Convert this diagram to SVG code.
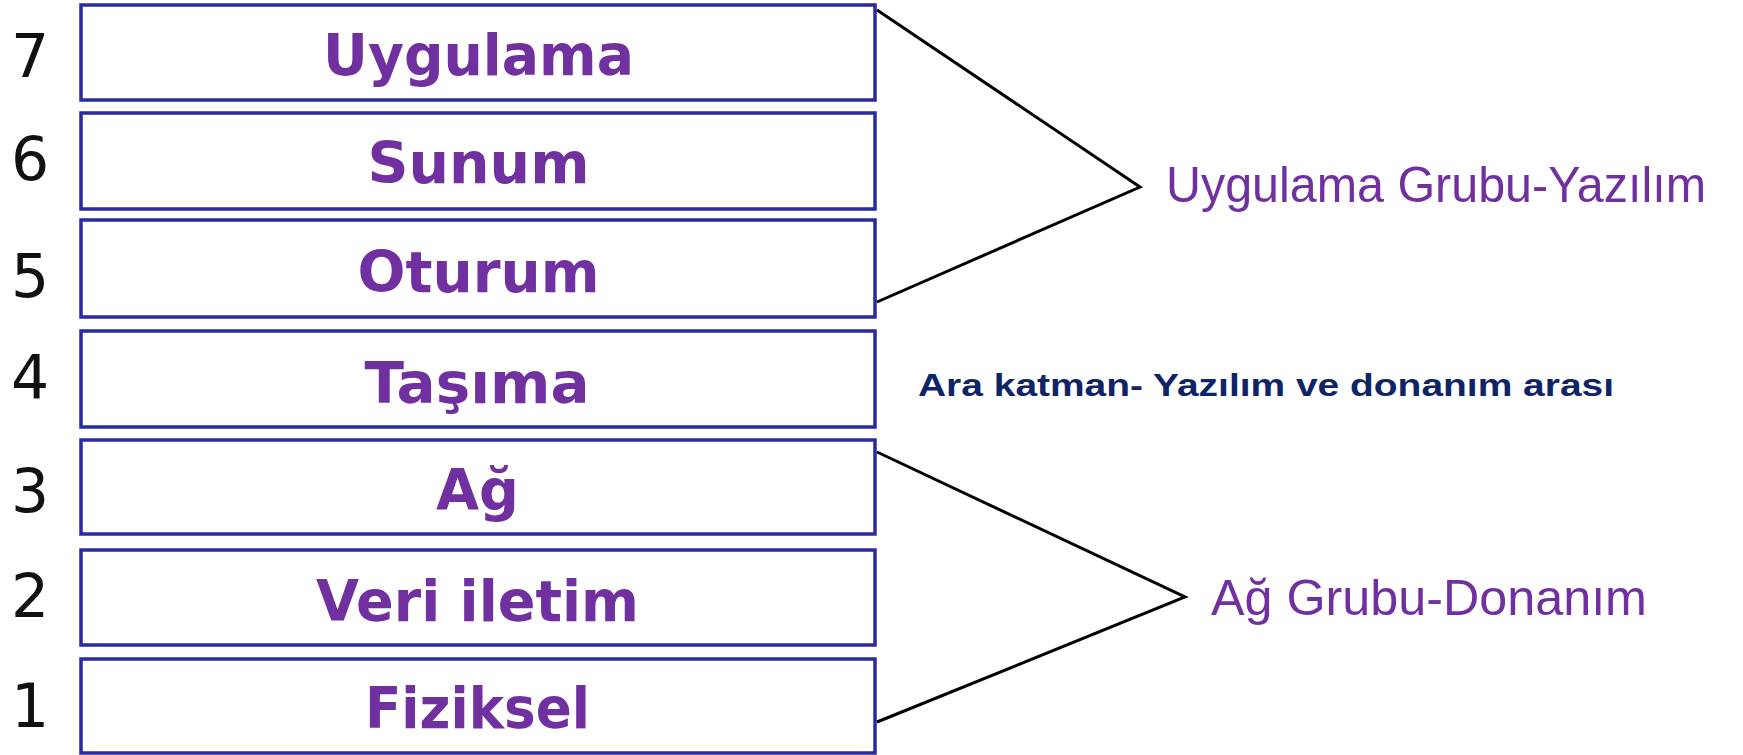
<svg xmlns="http://www.w3.org/2000/svg" width="1743" height="755" viewBox="0 0 1743 755">
<style>
.box{fill:#ffffff;stroke:#2A2A9C;stroke-width:3.5}
.lbl{font-family:"DejaVu Sans","Liberation Sans",sans-serif;font-weight:bold;font-size:57px;fill:#7030A0;text-anchor:middle}
.num{font-family:"DejaVu Sans","Liberation Sans",sans-serif;font-size:60px;fill:#111111;text-anchor:middle}
.grp{font-family:"Liberation Sans","DejaVu Sans",sans-serif;font-size:50px;fill:#7030A0}
.mid{font-family:"Liberation Sans","DejaVu Sans",sans-serif;font-weight:bold;font-size:32px;fill:#0F2466}
.con{fill:none;stroke:#000000;stroke-width:3;stroke-linejoin:miter}
</style>
<rect width="1743" height="755" fill="#ffffff"/>
<g id="layer7"><rect class="box" x="81" y="5" width="794" height="95"/><text class="lbl" x="478.5" y="75" textLength="311" lengthAdjust="spacingAndGlyphs">Uygulama</text><text class="num" x="30" y="77">7</text></g>
<g id="layer6"><rect class="box" x="81" y="113" width="794" height="96"/><text class="lbl" x="478.5" y="183" textLength="222" lengthAdjust="spacingAndGlyphs">Sunum</text><text class="num" x="30" y="180">6</text></g>
<g id="layer5"><rect class="box" x="81" y="220" width="794" height="97"/><text class="lbl" x="478.5" y="292" textLength="242" lengthAdjust="spacingAndGlyphs">Oturum</text><text class="num" x="30" y="297">5</text></g>
<g id="layer4"><rect class="box" x="81" y="331" width="794" height="96"/><text class="lbl" x="477" y="403" textLength="225" lengthAdjust="spacingAndGlyphs">Taşıma</text><text class="num" x="30" y="398">4</text></g>
<g id="layer3"><rect class="box" x="81" y="440" width="794" height="94"/><text class="lbl" x="477.5" y="510" textLength="83" lengthAdjust="spacingAndGlyphs">Ağ</text><text class="num" x="30" y="512">3</text></g>
<g id="layer2"><rect class="box" x="81" y="550" width="794" height="95"/><text class="lbl" x="477.5" y="621" textLength="323" lengthAdjust="spacingAndGlyphs">Veri iletim</text><text class="num" x="30" y="617">2</text></g>
<g id="layer1"><rect class="box" x="81" y="659" width="794" height="94"/><text class="lbl" x="477.5" y="728" textLength="225" lengthAdjust="spacingAndGlyphs">Fiziksel</text><text class="num" x="30" y="727">1</text></g>
<g id="connectors">
<polyline class="con" points="877,10 1140,187 877,302"/>
<polyline class="con" points="877,452 1185,597 877,722"/>
</g>
<g id="group-software"><text class="grp" x="1166" y="202" textLength="540" lengthAdjust="spacingAndGlyphs">Uygulama Grubu-Yazılım</text></g>
<g id="middle-note"><text class="mid" x="918" y="396" textLength="696" lengthAdjust="spacingAndGlyphs">Ara katman- Yazılım ve donanım arası</text></g>
<g id="group-hardware"><text class="grp" x="1211" y="615" textLength="436" lengthAdjust="spacingAndGlyphs">Ağ Grubu-Donanım</text></g>
</svg>
